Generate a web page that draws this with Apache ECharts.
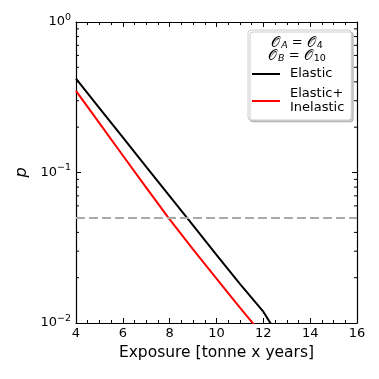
<!DOCTYPE html>
<html>
<head>
<meta charset="utf-8">
<script src="https://cdn.jsdelivr.net/npm/echarts@6/dist/echarts.min.js"></script>
<style>
  html, body { margin: 0; padding: 0; background: #fff; }
  #chart { width: 379px; height: 379px; }
</style>
</head>
<body>
<div id="chart"></div>
<script>
  // exposure (tonne x years) and p values
  const xElastic = [4, 5, 6, 7, 8, 9, 10, 11, 12, 12.5]
  const pElastic = [0.4198, 0.268, 0.171, 0.1091, 0.0697, 0.0445, 0.0284, 0.0182, 0.01189, 0.00891]
  const xInelastic = [4, 5, 6, 7, 7.95, 9, 10, 11, 11.6, 12]
  const pInelastic = [0.349, 0.2128, 0.1297, 0.0794, 0.0499, 0.0309, 0.0197, 0.01265, 0.00977, 0.00813]
  const threshold = 0.05

  const seriesNames = ['Elastic', 'Elastic+\nInelastic']
  const yTickExp = { '0.01': '−2', '0.1': '−1', '1': '0' }
  const yMinorTicks = [0.02, 0.03, 0.04, 0.05, 0.06, 0.07, 0.08, 0.09,
                       0.2, 0.3, 0.4, 0.5, 0.6, 0.7, 0.8, 0.9]
  const xMin = 4, xMax = 16

  const font = 'DejaVu Sans'

  function pairs(xs, ys) {
    return xs.map((x, i) => [x, ys[i]])
  }

  let myChart = echarts.init(document.getElementById('chart'))

  const xBase = {
    type: 'value',
    min: xMin,
    max: xMax,
    interval: 2,
    splitLine: { show: false },
    axisLine: { show: true, onZero: false, lineStyle: { color: '#000', width: 1.2 } },
    axisTick: { show: true, inside: true, length: 5, lineStyle: { color: '#000' } },
    minorTick: { show: true, splitNumber: 4, length: 3, lineStyle: { color: '#000' } }
  }
  const yBase = {
    type: 'log',
    logBase: 10,
    min: 0.01,
    max: 1,
    splitLine: { show: false },
    axisLine: { show: true, onZero: false, lineStyle: { color: '#000', width: 1.2 } },
    axisTick: { show: true, inside: true, length: 5, lineStyle: { color: '#000' } }
  }

  // legend title rich styles
  const titleRich = {
    o: { fontFamily: font, fontSize: 14, fill: '#000' },
    t: { fontFamily: font, fontSize: 13, fill: '#000' },
    s: { fontFamily: font, fontSize: 9.5, fontStyle: 'italic', fill: '#000', padding: [6, 0, 0, 1] },
    n: { fontFamily: font, fontSize: 9.5, fill: '#000', padding: [6, 0, 0, 1] }
  }

  myChart.setOption({
    animation: false,
    backgroundColor: '#fff',
    grid: { left: 76, right: 22, top: 22, bottom: 56 },
    xAxis: [
      Object.assign({}, xBase, {
        position: 'bottom',
        name: 'Exposure [tonne x years]',
        nameLocation: 'middle',
        nameGap: 21,
        nameTextStyle: { fontFamily: font, fontSize: 15.5, color: '#000' },
        axisLabel: { fontFamily: font, fontSize: 13, color: '#000', margin: 4 }
      }),
      Object.assign({}, xBase, { position: 'top', axisLabel: { show: false } })
    ],
    yAxis: [
      Object.assign({}, yBase, {
        position: 'left',
        name: 'p',
        nameLocation: 'middle',
        nameRotate: 90,
        nameGap: 42,
        nameTextStyle: { fontFamily: font, fontSize: 16, fontStyle: 'italic', color: '#000' },
        axisLabel: {
          margin: 5,
          formatter: v => '{b|10}{s|' + yTickExp[String(+v.toPrecision(3))] + '}',
          rich: {
            b: { fontFamily: font, fontSize: 13, color: '#000' },
            s: { fontFamily: font, fontSize: 9.5, color: '#000', padding: [0, 0, 9, 0] }
          }
        }
      }),
      Object.assign({}, yBase, { position: 'right', axisLabel: { show: false } })
    ],
    legend: {
      orient: 'vertical',
      left: 248,
      top: 30,
      data: seriesNames,
      icon: 'rect',
      itemWidth: 28,
      itemHeight: 2,
      itemGap: 6,
      padding: [37, 7, 5, 4],
      backgroundColor: '#fff',
      borderColor: '#cccccc',
      borderWidth: 1,
      borderRadius: 3,
      shadowColor: 'rgba(0,0,0,0.2)',
      shadowBlur: 0,
      shadowOffsetX: 2,
      shadowOffsetY: 2,
      textStyle: { fontFamily: font, fontSize: 13, color: '#000', lineHeight: 14, padding: [0, 0, 0, 5] }
    },
    graphic: [
      {
        type: 'text', x: 297, y: 43, z: 100,
        style: {
          text: '{o|𝒪}{s|A}{t| = }{o|𝒪}{n|4}',
          align: 'center', verticalAlign: 'middle',
          rich: titleRich
        }
      },
      {
        type: 'text', x: 297, y: 56, z: 100,
        style: {
          text: '{o|𝒪}{s|B}{t| = }{o|𝒪}{n|10}',
          align: 'center', verticalAlign: 'middle',
          rich: titleRich
        }
      }
    ],
    series: [
      {
        name: seriesNames[0],
        type: 'line',
        data: pairs(xElastic, pElastic),
        showSymbol: false,
        clip: true,
        color: '#000',
        lineStyle: { color: '#000', width: 2 },
        markLine: {
          silent: true,
          symbol: 'none',
          label: { show: false },
          lineStyle: { color: '#aaaaaa', width: 2, type: [9, 4] },
          data: [{ yAxis: threshold }]
        }
      },
      {
        name: seriesNames[1],
        type: 'line',
        data: pairs(xInelastic, pInelastic),
        showSymbol: false,
        clip: true,
        color: '#ff0000',
        lineStyle: { color: '#ff0000', width: 2 }
      },
      {
        // log minor ticks on left and right
        type: 'custom',
        silent: true,
        clip: false,
        data: yMinorTicks.map(v => [xMin, v]),
        renderItem: (params, api) => {
          let v = api.value(1)
          let l = api.coord([xMin, v])
          let r = api.coord([xMax, v])
          let st = { stroke: '#000', lineWidth: 1 }
          return {
            type: 'group',
            children: [
              { type: 'line', shape: { x1: l[0], y1: l[1], x2: l[0] + 3, y2: l[1] }, style: st },
              { type: 'line', shape: { x1: r[0], y1: r[1], x2: r[0] - 3, y2: r[1] }, style: st }
            ]
          }
        }
      }
    ]
  })
</script>
</body>
</html>
